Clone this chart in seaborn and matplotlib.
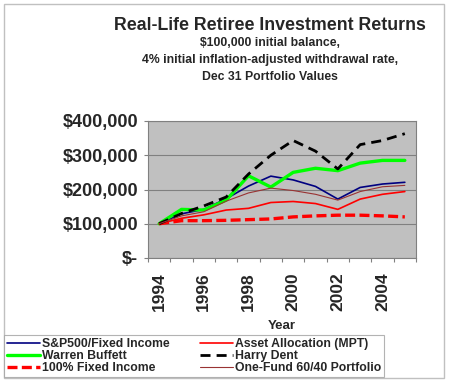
import matplotlib
matplotlib.use("Agg")
import matplotlib.pyplot as plt
import seaborn as sns
import pandas as pd
from matplotlib.patches import Rectangle
from matplotlib.ticker import FuncFormatter

# --- datos (en dolares) ---
years = list(range(1994, 2006))
sp500_fixed = [100000, 129000, 142000, 173000, 210000, 239000, 228000, 209000, 172000, 206000, 216000, 221000]
asset_alloc = [100000, 116000, 126000, 140000, 145000, 162000, 165000, 159000, 142000, 172000, 186000, 194000]
buffett = [100000, 142000, 140000, 169000, 240000, 207000, 250000, 262000, 255000, 277000, 285000, 285000]
harry_dent = [100000, 130000, 152000, 178000, 245000, 300000, 343000, 312000, 260000, 331000, 343000, 363000]
fixed_100 = [100000, 109000, 109000, 110000, 112000, 114000, 120000, 123000, 125000, 125000, 123000, 120000]
one_fund = [100000, 123000, 135000, 166000, 190000, 204000, 197000, 186000, 169000, 194000, 208000, 212000]

sns.set_theme(style="white")
plt.rcParams["font.family"] = ["Liberation Sans", "DejaVu Sans"]
plt.rcParams["font.weight"] = "bold"

fig = plt.figure(figsize=(4.5, 3.82), dpi=100)
ax = fig.add_axes([148 / 450, 1 - 258 / 382, 268 / 450, 137 / 382])
ax.set_facecolor("#C0C0C0")

series = [
    ("S&P500/Fixed Income", sp500_fixed, dict(color="#000080", lw=1.2)),
    ("Warren Buffett", buffett, dict(color="#00FF00", lw=2.4)),
    ("100% Fixed Income", fixed_100, dict(color="#FF0000", lw=2.4, dashes=(3, 1.3))),
    ("Asset Allocation (MPT)", asset_alloc, dict(color="#FF0000", lw=1.2)),
    ("Harry Dent", harry_dent, dict(color="#000000", lw=2.0, dashes=(3.6, 2.2))),
    ("One-Fund 60/40 Portfolio", one_fund, dict(color="#993333", lw=0.8)),
]
for name, vals, st in series:
    df = pd.DataFrame({"Year": years, "Value": vals})
    sns.lineplot(data=df, x="Year", y="Value", ax=ax, label=name, **st)
handles, labels = ax.get_legend_handles_labels()
ax.get_legend().remove()

# eje x tipo categoria (estilo Excel)
ax.set_xlim(1993.5, 2005.5)
ax.set_xticks([1994, 1996, 1998, 2000, 2002, 2004])
ax.set_xticklabels(["1994", "1996", "1998", "2000", "2002", "2004"], rotation=90, fontsize=12.5, fontweight="bold")
ax.set_xticks([y + 0.5 for y in range(1993, 2006)], minor=True)
ax.tick_params(axis="x", which="major", length=0, pad=10)
ax.tick_params(axis="x", which="minor", length=3, width=0.8, color="#808080", direction="out", bottom=True)

ax.set_ylim(0, 400000)
ax.set_yticks([0, 100000, 200000, 300000, 400000])
ax.yaxis.set_major_formatter(FuncFormatter(lambda v, p: "$-" if v == 0 else f"${v:,.0f}"))
ax.tick_params(axis="y", length=3, width=0.8, color="#808080", direction="out", left=True, labelsize=13, pad=4)
for t in ax.get_yticklabels():
    t.set_fontweight("bold")
ax.grid(axis="y", color="#808080", lw=0.8)
ax.grid(axis="x", visible=False)
for s in ax.spines.values():
    s.set_color("#808080")
    s.set_linewidth(0.8)

ax.set_xlabel("Year", fontsize=9.5, fontweight="bold", labelpad=7)
ax.set_ylabel("")

fig.text(270 / 450, 1 - 26 / 382, "Real-Life Retiree Investment Returns", ha="center", va="center",
         fontsize=12.8, fontweight="bold")
fig.text(270 / 450, 1 - 60 / 382,
         "$100,000 initial balance,\n4% initial inflation-adjusted withdrawal rate,\nDec 31 Portfolio Values",
         ha="center", va="center", fontsize=8.8, fontweight="bold", linespacing=1.55)

leg = fig.legend(handles, labels, ncol=2, loc="lower left",
                 bbox_to_anchor=(4 / 450, 5 / 382),
                 fontsize=8.8, frameon=True, fancybox=False, borderaxespad=0,
                 handlelength=2.7, handletextpad=0.15, labelspacing=0.0, borderpad=0.25,
                 columnspacing=2.5)
leg.get_frame().set_edgecolor("#A0A0A0")
leg.get_frame().set_linewidth(0.8)
for t in leg.get_texts():
    t.set_fontweight("bold")

fig.patches.append(Rectangle((4 / 450, 4 / 382), 440 / 450, 374 / 382, transform=fig.transFigure,
                             fill=False, edgecolor="#C0C0C0", lw=1.0))

fig.savefig("out.png", dpi=100)
